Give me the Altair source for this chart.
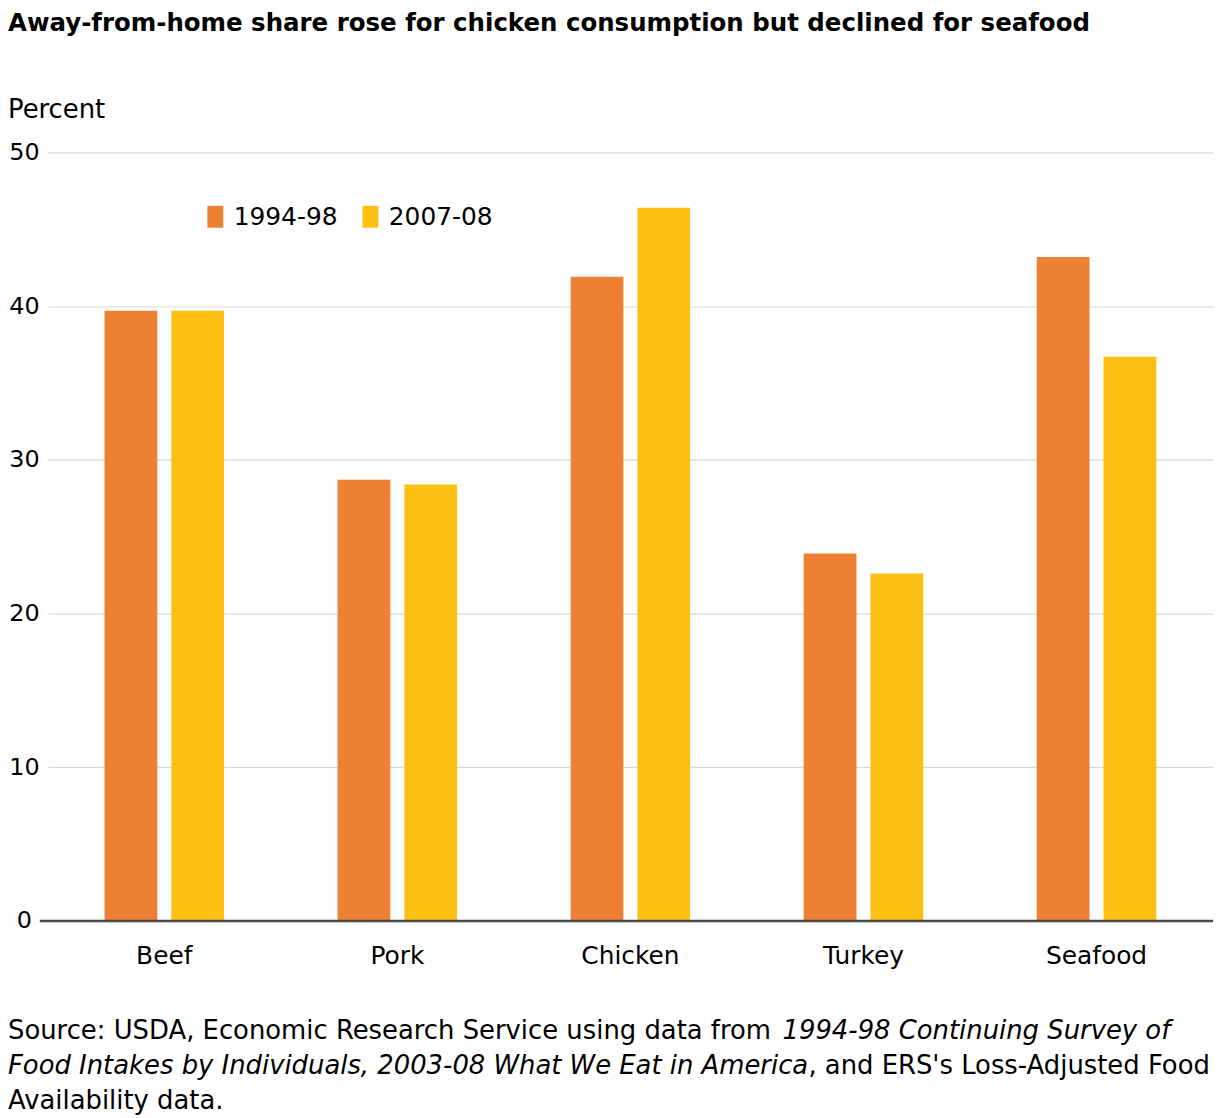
import altair as alt
import pandas as pd

categories = ["Beef", "Pork", "Chicken", "Turkey", "Seafood"]
periods = ["1994-98", "2007-08"]
v1994 = [39.7, 28.7, 41.9, 23.9, 43.2]
v2007 = [39.7, 28.4, 46.4, 22.6, 36.7]
colors = ["#EE8034", "#FCC012"]

title_text = "Away-from-home share rose for chicken consumption but declined for seafood"
y_title = "Percent"
src_l1a = "Source: USDA, Economic Research Service using data from "
src_l1b = "1994-98 Continuing Survey of"
src_l2a = "Food Intakes by Individuals, 2003-08 What We Eat in America"
src_l2b = ", and ERS's Loss-Adjusted Food"
src_l3 = "Availability data."

rows = []
for c, a, b in zip(categories, v1994, v2007):
    rows.append({"cat": c, "period": periods[0], "value": a})
    rows.append({"cat": c, "period": periods[1], "value": b})
df = pd.DataFrame(rows)

FONT = "DejaVu Sans"
W, H = 1172, 773

bars = alt.Chart(df).mark_bar().encode(
    x=alt.X("cat:N", sort=categories,
            scale=alt.Scale(paddingInner=0.487, paddingOuter=0.2435),
            axis=alt.Axis(title=None, labelAngle=0, ticks=False, domain=False,
                          labelPadding=23, labelFontSize=25, labelColor="#000",
                          labelFont=FONT)),
    xOffset=alt.XOffset("period:N", sort=periods,
                        scale=alt.Scale(paddingInner=0.21, paddingOuter=0)),
    y=alt.Y("value:Q", scale=alt.Scale(domain=[0, 50], nice=False),
            axis=alt.Axis(title=None, values=[0, 10, 20, 30, 40, 50], ticks=False,
                          domain=False, gridColor="#d9d9d9", gridWidth=1.2,
                          labelAlign="center", labelPadding=24, labelFontSize=24,
                          labelColor="#000", labelFont=FONT)),
    color=alt.Color("period:N", sort=periods,
                    scale=alt.Scale(domain=periods, range=colors),
                    legend=alt.Legend(title=None, orient="none", legendX=156, legendY=52,
                                      direction="horizontal",
                                      symbolType="M-0.727,-1H0.727V1H-0.727Z",
                                      symbolSize=484, symbolStrokeWidth=0,
                                      labelFontSize=25, labelFont=FONT, labelColor="#000",
                                      labelOffset=6, columnPadding=20)),
)

zero = alt.Chart(pd.DataFrame({"z": [0]})).mark_rule(color="#4a4a4a", strokeWidth=2.5).encode(
    y=alt.Y("z:Q"), x=alt.value(-8), x2=alt.value(W)
)

one = pd.DataFrame({"k": [0]})


def txt(s, x, y, size=26, weight="normal", style="normal", align="left"):
    return alt.Chart(one).mark_text(
        text=s, font=FONT, fontSize=size, fontWeight=weight, fontStyle=style,
        align=align, baseline="alphabetic", color="#000"
    ).encode(x=alt.value(x), y=alt.value(y))


texts = [
    txt(title_text, -40, -122, size=24.6, weight="bold"),
    txt(y_title, -40, -35),
    txt(src_l1a, -40, 892),
    txt(src_l1b, 739, 892, style="italic"),
    txt(src_l2a, -40, 927, style="italic"),
    txt(src_l2b, 765, 927),
    txt(src_l3, -40, 962),
]

chart = alt.layer(bars, zero, *texts).properties(
    width=W, height=H,
    autosize=alt.AutoSizeParams(type="none"),
    padding={"left": 40, "top": 142, "right": 10, "bottom": 195},
).configure_view(stroke=None).configure_axis(labelFont=FONT)

chart.save("out.html", embed_options={"renderer": "svg", "actions": False})
